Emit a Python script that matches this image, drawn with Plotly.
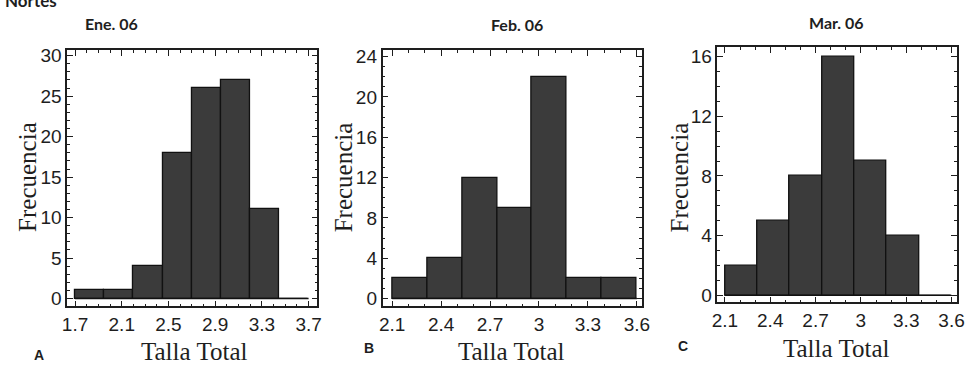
import plotly.graph_objects as go

# Histogram data: bin edges and counts per month
ene_edges = [1.7, 1.95, 2.2, 2.45, 2.7, 2.95, 3.2, 3.45, 3.7]
ene_counts = [1, 1, 4, 18, 26, 27, 11, 0]

feb_edges = [2.1, 2.3143, 2.5286, 2.7429, 2.9571, 3.1714, 3.3857, 3.6]
feb_counts = [2, 4, 12, 9, 22, 2, 2]

mar_edges = [2.1, 2.3143, 2.5286, 2.7429, 2.9571, 3.1714, 3.3857, 3.6]
mar_counts = [2, 5, 8, 16, 9, 4, 0]

titles = ["Ene. 06", "Feb. 06", "Mar. 06"]
panel_letters = ["A", "B", "C"]

ene_xticks = [1.7, 2.1, 2.5, 2.9, 3.3, 3.7]
ene_xtext = ["1.7", "2.1", "2.5", "2.9", "3.3", "3.7"]
febmar_xticks = [2.1, 2.4, 2.7, 3.0, 3.3, 3.6]
febmar_xtext = ["2.1", "2.4", "2.7", "3", "3.3", "3.6"]

ene_yticks = [0, 5, 10, 15, 20, 25, 30]
feb_yticks = [0, 4, 8, 12, 16, 20, 24]
mar_yticks = [0, 4, 8, 12, 16]

W, H = 976, 372

panels = [
    dict(edges=ene_edges, counts=ene_counts, xt=ene_xticks, xtt=ene_xtext, yt=ene_yticks,
         px=(62, 316), py=(46, 308), xr=[1.632, 3.776], yr=[-0.97, 30.7],
         title_xy=(107, 19), ylab_xy=(22, 176), xlab_xy=(191, 354), letter_xy=(33, 358)),
    dict(edges=feb_edges, counts=feb_counts, xt=febmar_xticks, xtt=febmar_xtext, yt=feb_yticks,
         px=(382, 645), py=(46, 308), xr=[2.041, 3.63], yr=[-0.78, 24.65],
         title_xy=(518, 20), ylab_xy=(342, 176), xlab_xy=(512, 354), letter_xy=(368, 351)),
    dict(edges=mar_edges, counts=mar_counts, xt=febmar_xticks, xtt=febmar_xtext, yt=mar_yticks,
         px=(721.7, 965), py=(42.7, 304), xr=[2.05, 3.637], yr=[-0.48, 16.66],
         title_xy=(843, 18), ylab_xy=(683, 176), xlab_xy=(842, 351), letter_xy=(687, 349)),
]

BAR = "#3b3b3b"
INK = "#1e1e1e"
tick_font = dict(family="Liberation Sans, Arial", size=19, color=INK)
serif = dict(family="Liberation Serif, Times New Roman", size=25, color=INK)


def note(text, x, y, font, **kw):
    return dict(text=text, x=x / W, y=1 - y / H, xref="paper", yref="paper",
                xanchor=kw.pop("xanchor", "center"), yanchor=kw.pop("yanchor", "middle"),
                showarrow=False, font=font, **kw)


fig = go.Figure()
annotations = []

for i, p in enumerate(panels, start=1):
    xa = "x" if i == 1 else f"x{i}"
    ya = "y" if i == 1 else f"y{i}"
    e = p["edges"]
    centers = [(a + b) / 2 for a, b in zip(e[:-1], e[1:])]
    widths = [b - a for a, b in zip(e[:-1], e[1:])]
    fig.add_trace(go.Bar(x=centers, y=p["counts"], width=widths,
                         marker=dict(color=BAR, line=dict(color="#111111", width=1.3)),
                         xaxis=xa, yaxis=ya, showlegend=False, hoverinfo="skip"))
    # baseline of the histogram across all bins
    fig.add_trace(go.Scatter(x=[e[0], e[-1]], y=[0, 0], mode="lines",
                             line=dict(color="#111111", width=1.3),
                             xaxis=xa, yaxis=ya, showlegend=False, hoverinfo="skip"))

    xdom = [p["px"][0] / W, p["px"][1] / W]
    ydom = [1 - p["py"][1] / H, 1 - p["py"][0] / H]
    ykey = "yaxis" if i == 1 else f"yaxis{i}"
    xkey = "xaxis" if i == 1 else f"xaxis{i}"
    fig.update_layout(**{
        xkey: dict(domain=xdom, range=p["xr"], anchor=ya, showgrid=False, zeroline=False,
                   showline=True, linecolor=INK, linewidth=1.5, mirror="ticks",
                   ticks="inside", ticklen=6, tickwidth=1.2, tickcolor=INK,
                   tickvals=p["xt"], ticktext=p["xtt"], tickfont=tick_font,
                   minor=dict(ticks="inside", ticklen=3, tickwidth=1, tickcolor=INK, dtick=0.1,
                              tick0=p["xt"][0], showgrid=False),
                   fixedrange=True),
        ykey: dict(domain=ydom, range=p["yr"], anchor=xa, showgrid=False, zeroline=False,
                   showline=True, linecolor=INK, linewidth=1.5, mirror="ticks",
                   ticks="inside", ticklen=6, tickwidth=1.2, tickcolor=INK,
                   tickvals=p["yt"], tickfont=tick_font,
                   minor=dict(ticks="inside", ticklen=3, tickwidth=1, tickcolor=INK, dtick=1,
                              tick0=0, showgrid=False),
                   fixedrange=True),
    })

    annotations.append(note(f"<b>{titles[i-1]}</b>", *p["title_xy"],
                            dict(family="Lato, Open Sans", size=16, color=INK)))
    annotations.append(note("Frecuencia", *p["ylab_xy"], serif, textangle=-90))
    annotations.append(note("Talla Total", *p["xlab_xy"], serif))
    annotations.append(note(f"<b>{panel_letters[i-1]}</b>", *p["letter_xy"],
                            dict(family="Liberation Sans, Arial", size=14, color=INK)))

# group heading at the top-left edge
annotations.append(note("<b>Nortes</b>", -3, -5, dict(family="Lato, Open Sans", size=17, color=INK),
                        xanchor="left"))

fig.update_layout(width=W, height=H, margin=dict(l=0, r=0, t=0, b=0),
                  paper_bgcolor="white", plot_bgcolor="white",
                  annotations=annotations, bargap=0)

fig.write_html("out.html")
